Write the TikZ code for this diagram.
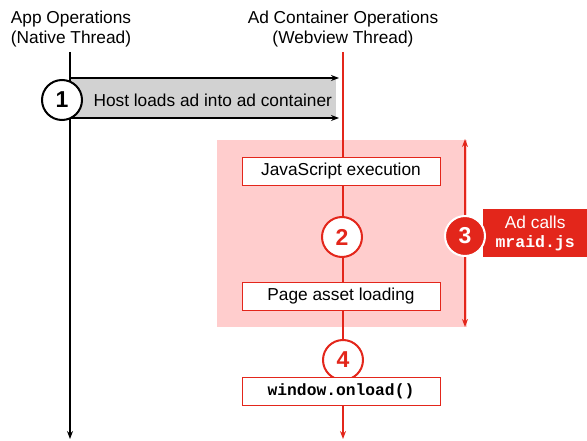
\documentclass[tikz,border=0pt]{standalone}
\usepackage{fontspec}
\setmainfont{Liberation Sans}
\setmonofont{Liberation Mono}
\usetikzlibrary{arrows.meta}
\definecolor{adred}{HTML}{E3261B}
\definecolor{adpink}{HTML}{FFCDCD}
\definecolor{bandgray}{HTML}{D2D2D2}
\begin{document}
\begin{tikzpicture}[x=1pt,y=-1pt,
  lbl/.style={font=\fontsize{17.3}{20}\selectfont, align=center},
  stepbox/.style={draw=adred, fill=white, line width=0.8pt, minimum width=198pt, minimum height=28pt, font=\fontsize{17.3}{20}\selectfont, inner sep=0pt},
  numcirc/.style={circle, minimum size=40pt, inner sep=0pt, line width=2pt, font=\fontsize{23}{23}\selectfont\bfseries},
  tip/.style={-{Stealth[length=8pt,width=6pt]}}
]
\useasboundingbox (0,0) rectangle (587,441);
% headers
\node[lbl] (app) at (71,29) {App Operations\\(Native Thread)};
\node[lbl] (ad) at (343,29) {Ad Container Operations\\(Webview Thread)};
\coordinate (appTop) at (70,52);
\coordinate (appBot) at (70,439);
\coordinate (adTop) at (343,52);
\coordinate (adBot) at (343,439);
% pink area
\fill[adpink] (217,140) rectangle (467,327);
% gray band
\fill[bandgray] (70,78) rectangle (336,118);
\coordinate (bandTL) at (70,78);
\coordinate (bandTR) at (339,78);
\coordinate (bandBL) at (70,118);
\coordinate (bandBR) at (339,118);
\draw[tip, line width=1.3pt] (bandTL) -- (bandTR);
\draw[tip, line width=1.3pt] (bandBL) -- (bandBR);
% thread lines
\draw[tip, line width=1.3pt] (appTop) -- (appBot);
\draw[tip, line width=1.3pt, adred] (adTop) -- (adBot);
% step 1
\node[numcirc, draw=black, fill=white] (c1) at (62,100) {1};
\node[lbl, anchor=west] (host) at (90,100) {Host loads ad into ad container};
% boxes
\node[stepbox] (js) at (341,171) {JavaScript execution};
\node[numcirc, draw=adred, fill=white, text=adred] (c2) at (342,237) {2};
\node[stepbox] (page) at (341,296) {Page asset loading};
\node[numcirc, draw=adred, fill=white, text=adred] (c4) at (343,360) {4};
\node[stepbox, font=\fontsize{16.3}{19}\selectfont\ttfamily\bfseries] (win) at (341,391) {window.onload()};
% step 3
\coordinate (d3top) at (465,139);
\coordinate (d3bot) at (465,327);
\draw[{Stealth[length=8pt,width=6pt]}-{Stealth[length=8pt,width=6pt]}, line width=1.3pt, adred] (d3top) -- (d3bot);
\node[fill=adred, minimum width=104pt, minimum height=48pt, inner sep=0pt, text=white, align=center, font=\fontsize{17.3}{19}\selectfont, anchor=west] (calls) at (483,233) {Ad calls\\{\fontsize{16.5}{19}\selectfont\ttfamily\bfseries mraid.js}};
\node[numcirc, draw=white, fill=adred, text=white] (c3) at (465,236) {3};
\end{tikzpicture}
\end{document}
